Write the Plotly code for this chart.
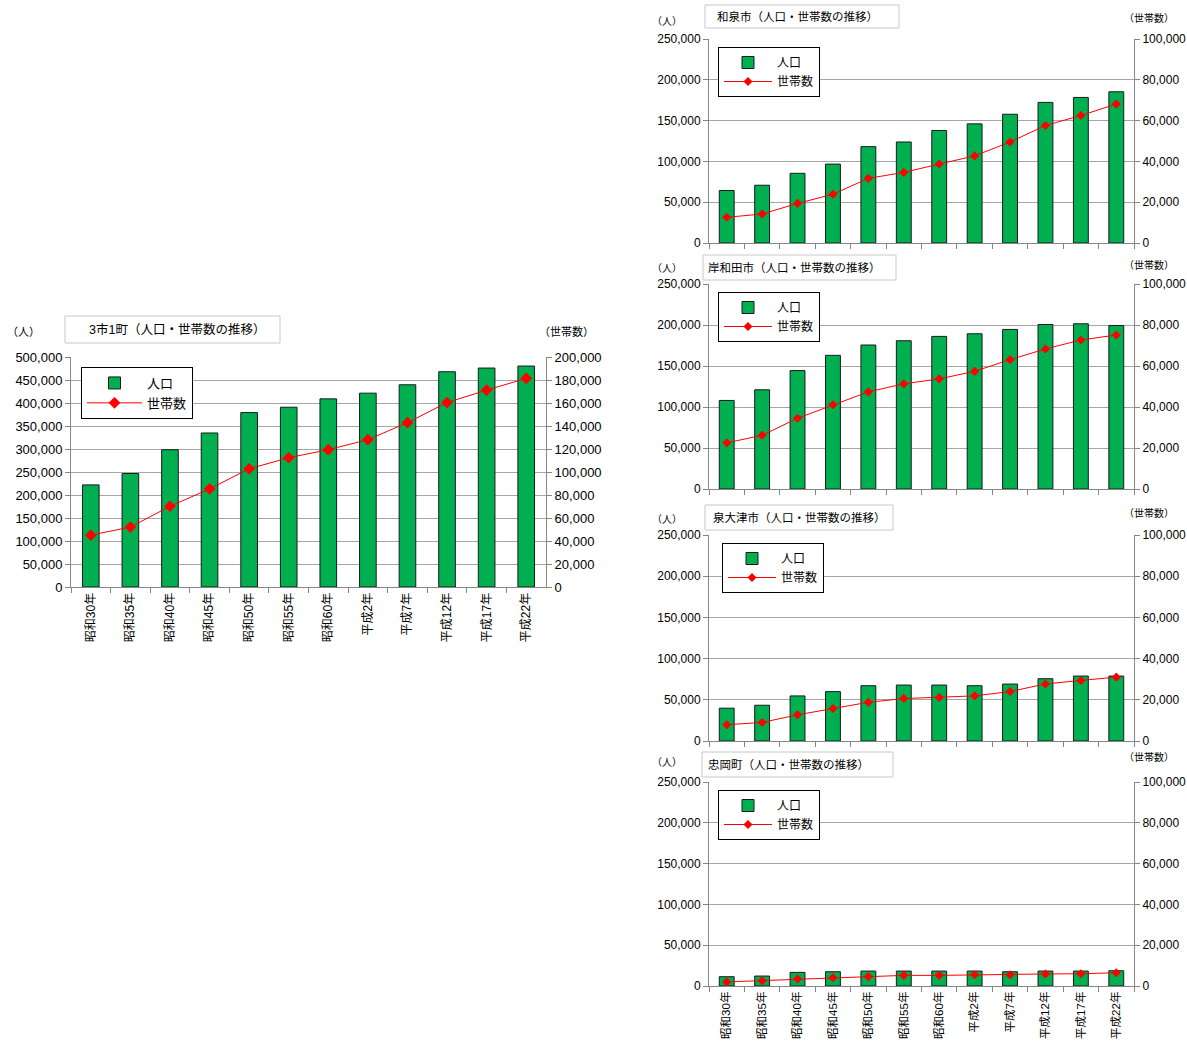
import plotly.graph_objects as go

W, H = 1187, 1043

categories = ["昭和30年", "昭和35年", "昭和40年", "昭和45年", "昭和50年", "昭和55年",
              "昭和60年", "平成2年", "平成7年", "平成12年", "平成17年", "平成22年"]

total_pop = [222000, 246700, 298400, 334800, 379200, 390800, 409000, 421400, 439600, 468000, 476000, 480300]
total_hh = [45100, 52100, 70200, 85300, 102800, 112400, 119400, 128100, 142900, 160400, 171200, 181400]

izumi_pop = [64300, 70800, 85400, 96700, 118100, 123800, 137900, 146000, 157800, 172300, 178400, 185300]
izumi_hh = [12600, 14200, 19400, 23900, 31700, 34600, 38700, 42700, 49500, 57600, 62500, 68100]

kishiwada_pop = [108000, 121000, 144400, 163000, 175600, 180800, 186100, 189300, 194600, 200600, 201500, 199400]
kishiwada_hh = [22500, 26200, 34500, 41100, 47400, 51300, 53700, 57400, 63100, 68300, 72700, 75100]

izumiotsu_pop = [39800, 43400, 54700, 59900, 67100, 67900, 67900, 67100, 69100, 75600, 78800, 78800]
izumiotsu_hh = [7900, 9000, 12700, 15800, 18800, 20600, 21100, 21900, 24000, 27700, 29400, 31000]

tadaoka_pop = [11400, 12200, 16700, 17500, 18300, 18300, 18300, 18300, 17500, 18300, 18300, 18700]
tadaoka_hh = [2000, 2600, 3400, 4100, 4600, 5200, 5200, 5500, 5500, 5900, 6000, 6500]

titles = ["3市1町（人口・世帯数の推移）", "和泉市（人口・世帯数の推移）", "岸和田市（人口・世帯数の推移）",
          "泉大津市（人口・世帯数の推移）", "忠岡町（人口・世帯数の推移）"]
series_names = ["人口", "世帯数"]
unit_left = "（人）"
unit_right = "（世帯数）"

FONT = "Liberation Sans, Arial, Noto Sans CJK JP, sans-serif"
GREEN = "#00B050"
RED = "#FF0000"
GRID = "#A6A6A6"
AXIS = "#868686"


def px(x):
    return x / W


def py(y):
    return 1 - y / H


panels = [
    dict(pop=total_pop, hh=total_hh, plot=(71, 546, 357, 587), ymax=500000, y2max=200000, dtick2=20000,
         labels=True, fs=13, lfs=13, leg=(81, 367), iw=55, tbox=(65, 280, 316, 343), tx=87, tfs=12.5,
         ul=(23, 332), ur=(566, 332), ufs=11, ms=9),
    dict(pop=izumi_pop, hh=izumi_hh, plot=(709, 1134, 39, 243), ymax=250000, y2max=100000, dtick2=20000,
         labels=False, fs=12, lfs=12, leg=(718, 47), iw=48, tbox=(705, 899, 5, 28), tx=715, tfs=11.5,
         ul=(667, 22), ur=(1149, 18), ufs=10, ms=7),
    dict(pop=kishiwada_pop, hh=kishiwada_hh, plot=(709, 1134, 284, 489), ymax=250000, y2max=100000, dtick2=20000,
         labels=False, fs=12, lfs=12, leg=(718, 292), iw=48, tbox=(703, 896, 255, 280), tx=706, tfs=11.5,
         ul=(667, 268), ur=(1149, 265), ufs=10, ms=7),
    dict(pop=izumiotsu_pop, hh=izumiotsu_hh, plot=(709, 1134, 535, 741), ymax=250000, y2max=100000, dtick2=20000,
         labels=False, fs=12, lfs=12, leg=(722, 543), iw=48, tbox=(705, 893, 505, 530), tx=711, tfs=11.5,
         ul=(667, 519), ur=(1149, 513), ufs=10, ms=7),
    dict(pop=tadaoka_pop, hh=tadaoka_hh, plot=(709, 1134, 782, 986), ymax=250000, y2max=100000, dtick2=20000,
         labels=True, fs=12, lfs=12, leg=(718, 790), iw=48, tbox=(702, 893, 752, 777), tx=706, tfs=11.5,
         ul=(667, 762), ur=(1149, 757), ufs=10, ms=7),
]

fig = go.Figure()
layout = {}
shapes = []
annotations = []

for i, p in enumerate(panels):
    k = i + 1
    xname = "x" if k == 1 else f"x{k}"
    y1n = 2 * k - 1
    y2n = 2 * k
    y1name = "y" if y1n == 1 else f"y{y1n}"
    y2name = f"y{y2n}"
    legname = "legend" if k == 1 else f"legend{k}"
    x0, x1, yt, yb = p["plot"]

    fig.add_trace(go.Bar(
        x=categories, y=p["pop"], name=series_names[0], xaxis=xname, yaxis=y1name,
        marker=dict(color=GREEN, line=dict(color="#1A1A1A", width=1)), width=0.42,
        legend=legname, showlegend=True))
    fig.add_trace(go.Scatter(
        x=categories, y=p["hh"], name=series_names[1], xaxis=xname, yaxis=y2name,
        mode="lines+markers", line=dict(color=RED, width=1),
        marker=dict(symbol="diamond", size=p["ms"], color=RED),
        legend=legname, showlegend=True))

    xkey = "xaxis" if k == 1 else f"xaxis{k}"
    y1key = "yaxis" if y1n == 1 else f"yaxis{y1n}"
    y2key = f"yaxis{y2n}"

    layout[xkey] = dict(
        domain=[px(x0), px(x1)], anchor=y1name, type="category",
        range=[-0.5, len(categories) - 0.5],
        showline=True, linecolor=AXIS, linewidth=1,
        ticks="outside", tickson="boundaries", ticklen=5, tickcolor=AXIS,
        showgrid=False, showticklabels=p["labels"], tickangle=-90,
        tickfont=dict(family=FONT, size=12 if k == 1 else 11.5, color="#000"))
    layout[y1key] = dict(
        domain=[py(yb), py(yt)], anchor=xname, range=[0, p["ymax"]], dtick=p["ymax"] / 10 if k == 1 else 50000,
        tickformat=",", showline=True, linecolor=AXIS, linewidth=1,
        ticks="outside", ticklen=5, tickcolor=AXIS,
        showgrid=True, gridcolor=GRID, gridwidth=1, zeroline=False,
        tickfont=dict(family=FONT, size=p["fs"], color="#000"))
    layout[y2key] = dict(
        overlaying=y1name, side="right", anchor=xname, range=[0, p["y2max"]], dtick=p["dtick2"],
        tickformat=",", showline=True, linecolor=AXIS, linewidth=1,
        ticks="outside", ticklen=5, tickcolor=AXIS,
        showgrid=False, zeroline=False,
        tickfont=dict(family=FONT, size=p["fs"], color="#000"))

    lx, ly = p["leg"]
    layout[legname] = dict(
        x=px(lx), y=py(ly), xanchor="left", yanchor="top", xref="paper", yref="paper",
        bgcolor="white", bordercolor="#000", borderwidth=1,
        font=dict(family=FONT, size=p["lfs"], color="#000"),
        itemwidth=p["iw"], traceorder="normal", tracegroupgap=0)

    bx0, bx1, by0, by1 = p["tbox"]
    shapes.append(dict(type="rect", xref="paper", yref="paper",
                       x0=px(bx0), x1=px(bx1), y0=py(by1), y1=py(by0),
                       line=dict(color="#C8C8C8", width=1), fillcolor="white", layer="above"))
    annotations.append(dict(text=titles[i], xref="paper", yref="paper",
                            x=px(p["tx"]), y=py((by0 + by1) / 2), xanchor="left", yanchor="middle",
                            showarrow=False, font=dict(family=FONT, size=p["tfs"], color="#000")))
    annotations.append(dict(text=unit_left, xref="paper", yref="paper",
                            x=px(p["ul"][0]), y=py(p["ul"][1]), xanchor="center", yanchor="middle",
                            showarrow=False, font=dict(family=FONT, size=p["ufs"], color="#000")))
    annotations.append(dict(text=unit_right, xref="paper", yref="paper",
                            x=px(p["ur"][0]), y=py(p["ur"][1]), xanchor="center", yanchor="middle",
                            showarrow=False, font=dict(family=FONT, size=p["ufs"], color="#000")))

fig.update_layout(
    width=W, height=H, margin=dict(l=0, r=0, t=0, b=0, autoexpand=False),
    paper_bgcolor="white", plot_bgcolor="white",
    barmode="group", shapes=shapes, annotations=annotations,
    font=dict(family=FONT, color="#000"),
    **layout)

fig.write_html("out.html", config={"displayModeBar": False},
               post_script="document.body.style.margin='0';document.body.style.overflow='hidden';")
